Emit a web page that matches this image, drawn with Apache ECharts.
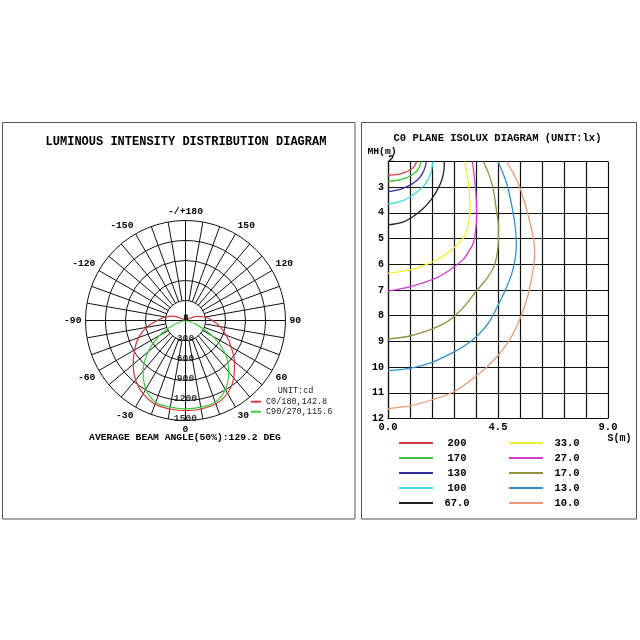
<!DOCTYPE html>
<html><head><meta charset="utf-8">
<script src="https://cdn.jsdelivr.net/npm/echarts/dist/echarts.min.js"></script>
<style>html,body{margin:0;padding:0;background:#fff}#c{width:640px;height:640px}</style>
</head><body><div id="c"></div><script>
// ---------- Polar (luminous intensity) data ----------
const angleLabelTicks = [-180,-150,-120,-90,-60,-30,0,30,60,90,120,150,180];
const radiusTicks = [300,600,900,1200,1500];
const gridAngles = [-170,-160,-150,-140,-130,-120,-110,-100,-90,-80,-70,-60,-50,-40,-30,-20,-10,0,10,20,30,40,50,60,70,80,90,100,110,120,130,140,150,160,170,180];
const curveAngles = [-180,-170,-160,-150,-140,-130,-120,-110,-100,-90,-80,-70,-60,-50,-40,-30,-20,-10,0,10,20,30,40,50,60,70,80,90,100,110,120,130,140,150,160,170,180];
const c0Values  = [0,0,0,0,0,0,40,190,300,425,595,750,880,1025,1165,1270,1335,1348,1352,1348,1330,1260,1125,960,790,650,525,405,300,180,40,0,0,0,0,0,0];
const c90Values = [0,0,0,0,0,0,0,0,0,0,30,180,450,730,990,1190,1305,1320,1325,1320,1305,1195,1010,780,470,170,30,0,0,0,0,0,0,0,0,0,0];
const polarSeriesNames = ['C0/180,142.8','C90/270,115.6'];

// ---------- Isolux data ----------
const isoLevels = ['200','170','130','100','67.0','33.0','27.0','17.0','13.0','10.0'];
const iso200 = [[0,2.53],[0.4,2.5],[0.7,2.42],[0.9,2.33],[1.05,2.22],[1.13,2.1],[1.16,2.0]];
const iso170 = [[0,2.77],[0.45,2.72],[0.8,2.62],[1.05,2.48],[1.22,2.32],[1.3,2.18],[1.34,2.0]];
const iso130 = [[0,3.17],[0.5,3.08],[0.9,2.92],[1.2,2.72],[1.4,2.48],[1.52,2.22],[1.57,2.0]];
const iso100 = [[0,3.65],[0.5,3.56],[0.9,3.38],[1.3,3.1],[1.57,2.82],[1.75,2.45],[1.84,2.0]];
const iso67  = [[0,4.47],[0.6,4.36],[1.0,4.16],[1.43,3.84],[1.75,3.5],[1.98,3.17],[2.15,2.85],[2.26,2.5],[2.3,2.2],[2.3,2.0]];
const iso33  = [[0,6.35],[0.89,6.22],[1.5,6.03],[1.84,5.9],[2.2,5.72],[2.52,5.5],[2.85,5.23],[3.07,4.99],[3.25,4.6],[3.33,4.2],[3.36,3.8],[3.34,3.3],[3.28,2.8],[3.2,2.35],[3.14,2.0]];
const iso27  = [[0,7.04],[0.89,6.88],[1.81,6.6],[2.3,6.37],[2.7,6.1],[3.07,5.82],[3.3,5.5],[3.48,5.2],[3.58,4.7],[3.63,4.1],[3.62,3.6],[3.58,3.04],[3.52,2.5],[3.45,2.0]];
const iso17  = [[0,8.91],[0.89,8.79],[1.77,8.53],[2.3,8.3],[2.7,8.04],[3.2,7.55],[3.61,7.04],[3.95,6.67],[4.2,6.33],[4.37,6.0],[4.48,5.5],[4.52,5.0],[4.52,4.5],[4.45,4.0],[4.3,3.05],[4.13,2.5],[3.9,2.0]];
const iso13  = [[0,10.14],[0.89,10.05],[1.77,9.83],[2.72,9.4],[3.2,9.13],[3.61,8.82],[4.1,8.3],[4.5,7.6],[4.8,7.0],[5.05,6.4],[5.2,5.8],[5.25,5.2],[5.2,4.5],[5.1,3.9],[4.91,3.04],[4.72,2.5],[4.5,2.0]];
const iso10  = [[0,11.62],[0.89,11.51],[1.77,11.28],[2.7,10.96],[3.4,10.5],[4.02,10.02],[4.5,9.55],[4.91,9.03],[5.2,8.55],[5.43,8.04],[5.7,7.3],[5.86,6.61],[5.97,6.0],[6.0,5.5],[5.95,5.0],[5.8,4.34],[5.62,3.7],[5.39,3.0],[5.15,2.5],[4.84,2.0]];
const isoData = [iso200, iso170, iso130, iso100, iso67, iso33, iso27, iso17, iso13, iso10];
const isoColors = ['#d04040','#40c040','#3030a0','#40d8e0','#202020','#f0f030','#d040d0','#909040','#3090d0','#e89a78'];
const xTickLabels = ['0.0','4.5','9.0'];
const yTicks = [2,3,4,5,6,7,8,9,10,11,12];

const MONO = '"Liberation Mono","DejaVu Sans Mono",monospace';
const CLEAR = 'rgba(0,0,0,0)';

const chart = echarts.init(document.getElementById('c'), null, {renderer: 'canvas'});

const series = [];
// radial grid lines
gridAngles.forEach(a => {
  const start = (a % 90 === 0) ? 0 : radiusTicks[0];
  series.push({
    type: 'line', coordinateSystem: 'polar', polarIndex: 0, silent: true,
    symbol: 'none', data: [[start, a], [radiusTicks[radiusTicks.length - 1], a]],
    lineStyle: {color: '#111', width: 1}, z: 1
  });
});
// intensity curves
series.push({
  name: polarSeriesNames[0], type: 'line', coordinateSystem: 'polar', symbol: 'none', smooth: 0.3,
  data: curveAngles.map((a, i) => [c0Values[i], a]),
  lineStyle: {color: '#d03a3a', width: 1.2}, itemStyle: {color: CLEAR}, z: 3
});
series.push({
  name: polarSeriesNames[1], type: 'line', coordinateSystem: 'polar', symbol: 'none', smooth: 0.3,
  data: curveAngles.map((a, i) => [c90Values[i], a]),
  lineStyle: {color: '#3fcc3f', width: 1.2}, itemStyle: {color: CLEAR}, z: 3
});
// radius tick labels along 0 degree
series.push({
  type: 'scatter', coordinateSystem: 'polar', silent: true, symbolSize: 1,
  itemStyle: {color: CLEAR},
  data: radiusTicks.map(r => [r, 0]),
  label: {show: true, position: 'inside', offset: [0, -2], formatter: p => String(p.value[0]),
    color: '#000', fontFamily: MONO, fontWeight: 'bold', fontSize: 9.7},
  z: 4
});
// center marker
series.push({
  type: 'scatter', coordinateSystem: 'polar', silent: true, symbol: 'rect', symbolSize: [4, 6],
  symbolOffset: [0.5, -3], itemStyle: {color: '#000'}, data: [[0, 0]], z: 5
});
// isolux curves
isoLevels.forEach((name, i) => {
  series.push({
    name, type: 'line', xAxisIndex: 0, yAxisIndex: 0, symbol: 'none', smooth: 0.3, clip: true,
    data: isoData[i], lineStyle: {color: isoColors[i], width: 1.3}, itemStyle: {color: CLEAR}
  });
});

const legendRich = {a: {width: 38, align: 'center', lineHeight: 12, fontFamily: MONO, fontWeight: 'bold', fontSize: 10.5, color: '#000'}};

chart.setOption({
  animation: false,
  backgroundColor: '#fff',
  polar: {center: [185.5, 320.5], radius: 100},
  angleAxis: {
    type: 'value', min: -180, max: 180, interval: 30, startAngle: 90, clockwise: false,
    axisLine: {show: false}, axisTick: {show: false}, splitLine: {show: false},
    axisLabel: {margin: 4, color: '#000', fontFamily: MONO, fontWeight: 'bold', fontSize: 9.7,
      formatter: v => (Math.abs(v) === 180 ? '-/+180' : String(v))}
  },
  radiusAxis: {
    type: 'value', min: 0, max: 1500, interval: 300,
    axisLine: {show: false}, axisTick: {show: false}, axisLabel: {show: false},
    splitLine: {show: true, lineStyle: {color: '#111', width: 1}}
  },
  grid: {left: 388, top: 161.5, width: 220, height: 257, containLabel: false},
  xAxis: {
    type: 'value', min: 0, max: 9, interval: 0.9,
    axisLine: {lineStyle: {color: '#111', width: 1.2}}, axisTick: {show: false},
    splitLine: {show: true, lineStyle: {color: '#111', width: 1.2}},
    axisLabel: {margin: 3, color: '#000', fontFamily: MONO, fontWeight: 'bold', fontSize: 10.5,
      showMinLabel: true, showMaxLabel: true,
      formatter: v => { const t = xTickLabels.find(s => Math.abs(parseFloat(s) - v) < 1e-6); return t || ''; }}
  },
  yAxis: {
    type: 'value', inverse: true, min: 2, max: 12, interval: 1,
    axisLine: {lineStyle: {color: '#111', width: 1.2}}, axisTick: {show: false},
    splitLine: {show: true, lineStyle: {color: '#111', width: 1.2}},
    axisLabel: {margin: 4, color: '#000', fontFamily: MONO, fontWeight: 'bold', fontSize: 10,
      padding: [0, 0, 5, 0], showMinLabel: true, showMaxLabel: true,
      formatter: v => (v === yTicks[0] ? '' : String(v))}
  },
  legend: [
    {data: isoLevels.slice(0, 5), orient: 'vertical', left: 398, top: 437.5, padding: 0, itemWidth: 34, itemHeight: 12, itemGap: 4,
      selectedMode: false, formatter: '{a|{name}}', textStyle: {rich: legendRich}},
    {data: isoLevels.slice(5), orient: 'vertical', left: 508, top: 437.5, padding: 0, itemWidth: 34, itemHeight: 12, itemGap: 4,
      selectedMode: false, formatter: '{a|{name}}', textStyle: {rich: legendRich}},
    {data: polarSeriesNames, orient: 'vertical', left: 250, top: 396.7, padding: 0, itemWidth: 10, itemHeight: 10, itemGap: 0,
      selectedMode: false, textStyle: {fontFamily: MONO, fontSize: 8.5, lineHeight: 10, color: '#222'}}
  ],
  series
});

function txt(id, text, x, y, font, align, color) {
  return {type: 'text', id, x, y, silent: true, z: 10,
    style: {text, font, fill: color || '#000', align: align || 'center', verticalAlign: 'middle',
      textAlign: align || 'center', textVerticalAlign: 'middle'}};
}
const topLeft = chart.convertToPixel({gridIndex: 0}, [0, yTicks[0]]);
chart.setOption({
  graphic: {elements: [
    {type: 'rect', id: 'b1', silent: true, shape: {x: 2.5, y: 122.5, width: 352.5, height: 396.5}, style: {fill: 'none', stroke: '#555', lineWidth: 1}},
    {type: 'rect', id: 'b2', silent: true, shape: {x: 361.5, y: 122.5, width: 275, height: 396.5}, style: {fill: 'none', stroke: '#555', lineWidth: 1}},
    txt('t1', 'LUMINOUS INTENSITY DISTRIBUTION DIAGRAM', 186, 141.7, 'bold 12px ' + MONO),
    txt('t2', 'AVERAGE BEAM ANGLE(50%):129.2 DEG', 185, 437.7, 'bold 9.7px ' + MONO),
    txt('t3', 'UNIT:cd', 277.7, 390.7, '8.5px ' + MONO, 'left', '#222'),
    txt('t4', 'C0 PLANE ISOLUX DIAGRAM (UNIT:lx)', 497.5, 138.3, 'bold 10.5px ' + MONO),
    txt('t5', 'MH(m)', 382, 152, 'bold 9.7px ' + MONO),
    txt('t6', 'S(m)', 619.5, 438.3, 'bold 10px ' + MONO),
    txt('t7', String(yTicks[0]), topLeft[0] + 3, topLeft[1] - 2.5, 'bold 10px ' + MONO)
  ]}
});
</script></body></html>
